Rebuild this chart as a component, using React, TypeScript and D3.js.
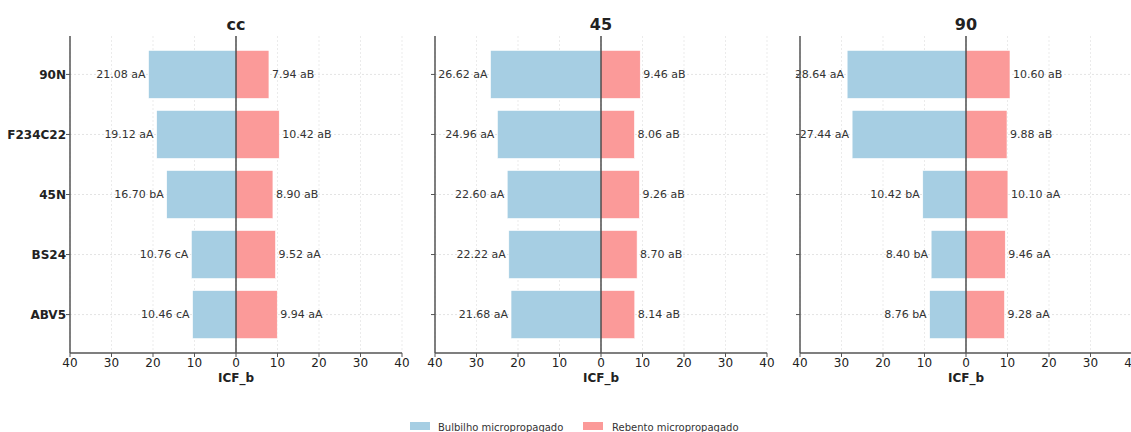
import React from "react";
import * as d3 from "d3";

const categories = ["90N", "F234C22", "45N", "BS24", "ABV5"];
const panels = ["cc", "45", "90"];
const bulbilhoValues = [
  [21.08, 19.12, 16.7, 10.76, 10.46],
  [26.62, 24.96, 22.6, 22.22, 21.68],
  [28.64, 27.44, 10.42, 8.4, 8.76],
];
const bulbilhoLetters = [
  ["aA", "aA", "bA", "cA", "cA"],
  ["aA", "aA", "aA", "aA", "aA"],
  ["aA", "aA", "bA", "bA", "bA"],
];
const rebentoValues = [
  [7.94, 10.42, 8.9, 9.52, 9.94],
  [9.46, 8.06, 9.26, 8.7, 8.14],
  [10.6, 9.88, 10.1, 9.46, 9.28],
];
const rebentoLetters = [
  ["aB", "aB", "aB", "aA", "aA"],
  ["aB", "aB", "aB", "aB", "aB"],
  ["aB", "aB", "aA", "aA", "aA"],
];
const xTicks = [-40, -30, -20, -10, 0, 10, 20, 30, 40];
const seriesNames = ["Bulbilho micropropagado", "Rebento micropropagado"];

const BLUE = "#a6cee3";
const RED = "#fb9a99";
const FONT = "DejaVu Sans, sans-serif";

const panelLeft = [70, 435, 800];
const panelWidth = 332;
const top = 36;
const bottom = 353;

export default function App() {
  return (
    <svg
      width={1131}
      height={432}
      style={{ position: "absolute", left: 0, top: 0, background: "#fff" }}
      fontFamily={FONT}
    >
      {panels.map((p, pi) => {
        const x = d3.scaleLinear().domain([-40, 40]).range([panelLeft[pi], panelLeft[pi] + panelWidth]);
        const y = d3.scaleLinear().domain([-0.64, 4.64]).range([top, bottom]);
        const bh = y(0.4) - y(0);
        return (
          <g key={p}>
            {xTicks.map((t) => (
              <line key={"gx" + t} x1={x(t)} x2={x(t)} y1={top} y2={bottom} stroke="#e6e6e6" strokeWidth={0.8} strokeDasharray="2,2" />
            ))}
            {categories.map((c, i) => (
              <line key={"gy" + c} x1={x(-40)} x2={x(40)} y1={y(i)} y2={y(i)} stroke="#dcdcdc" strokeWidth={0.8} strokeDasharray="2,2" />
            ))}
            {categories.map((c, i) => (
              <g key={"b" + c}>
                <rect x={x(-bulbilhoValues[pi][i])} y={y(i) - bh} width={x(0) - x(-bulbilhoValues[pi][i])} height={2 * bh} fill={BLUE} stroke="#fff" strokeWidth={0.6} />
                <rect x={x(0)} y={y(i) - bh} width={x(rebentoValues[pi][i]) - x(0)} height={2 * bh} fill={RED} stroke="#fff" strokeWidth={0.6} />
                <text x={x(-bulbilhoValues[pi][i]) - 3} y={y(i)} dy="0.35em" textAnchor="end" fontSize={11} fill="#333">
                  {bulbilhoValues[pi][i].toFixed(2) + " " + bulbilhoLetters[pi][i]}
                </text>
                <text x={x(rebentoValues[pi][i]) + 3} y={y(i)} dy="0.35em" textAnchor="start" fontSize={11} fill="#333">
                  {rebentoValues[pi][i].toFixed(2) + " " + rebentoLetters[pi][i]}
                </text>
              </g>
            ))}
            <line x1={x(0)} x2={x(0)} y1={top} y2={bottom} stroke="#222" strokeWidth={1.2} />
            <line x1={x(-40)} x2={x(-40)} y1={top} y2={bottom} stroke="#555" strokeWidth={1.5} />
            <line x1={x(-40)} x2={x(40)} y1={bottom} y2={bottom} stroke="#555" strokeWidth={1.5} />
            {categories.map((c, i) => (
              <g key={"yt" + c}>
                <line x1={x(-40) - 4} x2={x(-40)} y1={y(i)} y2={y(i)} stroke="#555" strokeWidth={1} />
                {pi === 0 && (
                  <text x={x(-40) - 4} y={y(i)} dy="0.35em" textAnchor="end" fontSize={12} fontWeight="bold" fill="#222">
                    {c}
                  </text>
                )}
              </g>
            ))}
            {xTicks.map((t) => (
              <g key={"xt" + t}>
                <line x1={x(t)} x2={x(t)} y1={bottom} y2={bottom + 4} stroke="#555" strokeWidth={1} />
                <text x={x(t)} y={bottom + 14} textAnchor="middle" fontSize={12} fill="#222">
                  {Math.abs(t)}
                </text>
              </g>
            ))}
            <text x={x(0)} y={382} textAnchor="middle" fontSize={12} fontWeight="bold" fill="#222">ICF_b</text>
            <text x={x(0)} y={30} textAnchor="middle" fontSize={16} fontWeight="bold" fill="#222">{p}</text>
          </g>
        );
      })}
      <g>
        <rect x={410} y={422} width={20} height={8} fill={BLUE} />
        <text x={438} y={430.5} fontSize={10} fill="#333">{seriesNames[0]}</text>
        <rect x={583} y={422} width={20} height={8} fill={RED} />
        <text x={612} y={430.5} fontSize={10} fill="#333">{seriesNames[1]}</text>
      </g>
    </svg>
  );
}
